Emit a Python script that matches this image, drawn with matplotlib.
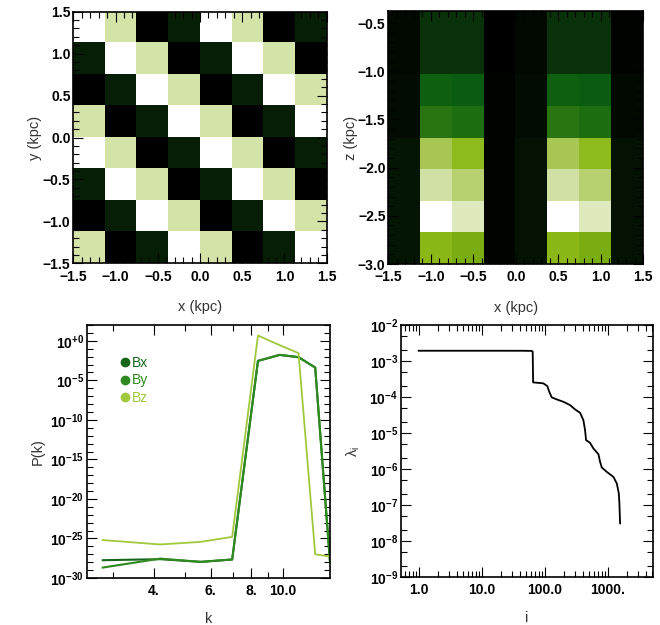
import numpy as np
import matplotlib
matplotlib.use("Agg")
import matplotlib.pyplot as plt
from matplotlib.colors import LinearSegmentedColormap
from matplotlib.lines import Line2D
from matplotlib.ticker import FixedLocator, FixedFormatter, MultipleLocator, LogLocator, NullFormatter

plt.rcParams['font.family'] = ['Liberation Sans', 'DejaVu Sans']
plt.rcParams['mathtext.fontset'] = 'custom'
plt.rcParams['mathtext.rm'] = 'Liberation Sans'
plt.rcParams['mathtext.it'] = 'Liberation Sans:italic'
plt.rcParams['mathtext.bf'] = 'Liberation Sans:bold'
plt.rcParams['axes.linewidth'] = 1.2

# ---- data ----
# xy slice (top row first), field value 0..1
Bxy = [
    [1.00, 0.80, 0.00, 0.07, 1.00, 0.80, 0.00, 0.07],
    [0.07, 1.00, 0.80, 0.00, 0.07, 1.00, 0.80, 0.00],
    [0.00, 0.07, 1.00, 0.80, 0.00, 0.07, 1.00, 0.80],
    [0.80, 0.00, 0.07, 1.00, 0.80, 0.00, 0.07, 1.00],
    [1.00, 0.80, 0.00, 0.07, 1.00, 0.80, 0.00, 0.07],
    [0.07, 1.00, 0.80, 0.00, 0.07, 1.00, 0.80, 0.00],
    [0.00, 0.07, 1.00, 0.80, 0.00, 0.07, 1.00, 0.80],
    [0.80, 0.00, 0.07, 1.00, 0.80, 0.00, 0.07, 1.00],
]
# xz slice (bottom row first)
Bxz = [
    [0.05, 0.51, 0.47, 0.01, 0.04, 0.51, 0.47, 0.04],
    [0.05, 1.00, 0.85, 0.01, 0.04, 1.00, 0.85, 0.04],
    [0.05, 0.79, 0.70, 0.01, 0.04, 0.79, 0.70, 0.04],
    [0.05, 0.65, 0.53, 0.01, 0.04, 0.65, 0.53, 0.04],
    [0.03, 0.31, 0.28, 0.01, 0.03, 0.31, 0.28, 0.02],
    [0.03, 0.22, 0.20, 0.01, 0.03, 0.22, 0.20, 0.02],
    [0.02, 0.11, 0.11, 0.00, 0.02, 0.11, 0.11, 0.01],
    [0.02, 0.11, 0.11, 0.00, 0.02, 0.11, 0.11, 0.01],
]

# power spectrum
k = [2.79, 4.19, 5.59, 6.98, 8.38, 9.77, 11.17, 12.57, 13.96]
logPx = [-27.75, -27.62, -27.96, -27.66, -2.54, -1.78, -2.07, -3.38, -27.96]
logPy = [-28.68, -27.55, -27.96, -27.66, -2.54, -1.78, -2.07, -3.38, -27.96]
logPz = [-25.2, -25.76, -25.43, -24.8, 0.67, -0.55, -1.56, -27.0, -27.3]

# eigenvalue spectrum
idx = [1, 20, 45, 62, 64, 65, 94, 109, 117, 128, 154, 196, 250, 300, 360, 406,
       432, 448, 518, 585, 702, 747, 794, 954, 1214, 1374, 1479, 1511, 1549]
loglam = [-2.715, -2.715, -2.716, -2.72, -2.742, -3.594, -3.62, -3.696, -3.854,
          -4.01, -4.067, -4.133, -4.225, -4.345, -4.438, -4.642, -4.92, -5.198,
          -5.273, -5.43, -5.587, -5.80, -5.957, -6.08, -6.22, -6.40, -6.68,
          -6.96, -7.51]

cmap = LinearSegmentedColormap.from_list('grn', [
    (0.0, '#000000'), (0.1, '#0a2e0a'), (0.2, '#0a5c10'), (0.3, '#237212'),
    (0.5, '#8ab812'), (0.65, '#a8c653'), (0.8, '#d4e3a8'), (1.0, '#ffffff')])

W, H = 660, 625
fig = plt.figure(figsize=(W / 100, H / 100), dpi=100)

def box(l, t, r, b):
    return [l / W, 1 - b / H, (r - l) / W, (b - t) / H]

lab_col = '#333333'

def style(ax, xpad=4.5, ypad=2):
    ax.tick_params(which='both', direction='in', top=True, right=True, color='black')
    ax.tick_params(which='major', length=7, width=0.8)
    ax.tick_params(which='minor', length=4.5, width=0.8)
    ax.tick_params(axis='x', pad=xpad)
    ax.tick_params(axis='y', pad=ypad)
    for t in ax.get_xticklabels() + ax.get_yticklabels():
        t.set_fontsize(10)
        t.set_fontweight('bold')

fmt = plt.FuncFormatter(lambda v, p: ('%.1f' % v).replace('-', '\u2212'))

# top-left
ax1 = fig.add_axes(box(73.3, 11.7, 326.7, 263.3))
ax1.imshow(np.array(Bxy), cmap=cmap, vmin=0, vmax=1, origin='upper',
           extent=[-1.5, 1.5, -1.5, 1.5], aspect='auto', interpolation='nearest')
ax1.xaxis.set_major_locator(MultipleLocator(0.5))
ax1.yaxis.set_major_locator(MultipleLocator(0.5))
ax1.xaxis.set_minor_locator(MultipleLocator(0.1))
ax1.yaxis.set_minor_locator(MultipleLocator(0.1))
ax1.xaxis.set_major_formatter(fmt)
ax1.yaxis.set_major_formatter(fmt)
ax1.set_xlabel('x (kpc)', fontsize=10.5, color=lab_col, labelpad=12)
ax1.set_ylabel('y (kpc)', fontsize=10.5, color=lab_col, labelpad=1)
style(ax1)

# top-right
ax2 = fig.add_axes(box(388.3, 11, 643.3, 264))
ax2.imshow(np.array(Bxz), cmap=cmap, vmin=0, vmax=1, origin='lower',
           extent=[-1.5, 1.5, -3.0, -0.375], aspect='auto', interpolation='nearest')
ax2.xaxis.set_major_locator(MultipleLocator(0.5))
ax2.yaxis.set_major_locator(MultipleLocator(0.5))
ax2.xaxis.set_minor_locator(MultipleLocator(0.1))
ax2.yaxis.set_minor_locator(MultipleLocator(0.1))
ax2.xaxis.set_major_formatter(fmt)
ax2.yaxis.set_major_formatter(fmt)
ax2.set_ylim(-3.0, -0.375)
ax2.set_xlabel('x (kpc)', fontsize=10.5, color=lab_col, labelpad=12)
ax2.set_ylabel('z (kpc)', fontsize=10.5, color=lab_col, labelpad=0)
style(ax2)

# bottom-left
ax3 = fig.add_axes(box(86.7, 325, 330, 578))
cx, cy, cz = '#16661a', '#2e8a1e', '#a0c83c'
ax3.plot(k, 10.0 ** np.array(logPx), color=cx, lw=1.5)
ax3.plot(k, 10.0 ** np.array(logPy), color=cy, lw=1.5)
ax3.plot(k, 10.0 ** np.array(logPz), color=cz, lw=1.3)
ax3.set_xscale('log')
ax3.set_yscale('log')
ax3.set_xlim(2.49, 13.96)
ax3.set_ylim(1e-30, 1e2)
ax3.xaxis.set_major_locator(FixedLocator([4, 6, 8, 10]))
ax3.xaxis.set_major_formatter(FixedFormatter(['4.', '6.', '8.', '10.0']))
ax3.xaxis.set_minor_locator(FixedLocator([3, 5, 7, 9]))
ax3.xaxis.set_minor_formatter(NullFormatter())
pexp = [-30, -25, -20, -15, -10, -5, 0]
ax3.yaxis.set_major_locator(FixedLocator([10.0 ** p for p in pexp]))
ax3.yaxis.set_major_formatter(FixedFormatter(
    [r'$\mathbf{10^{%s}}$' % ('+0' if p == 0 else '%d' % p) for p in pexp]))
ax3.yaxis.set_minor_locator(FixedLocator([10.0 ** p for p in range(-30, 3)]))
ax3.yaxis.set_minor_formatter(NullFormatter())
ax3.set_xlabel('k', fontsize=10.5, color=lab_col, labelpad=10)
ax3.set_ylabel('P(k)', fontsize=10.5, color=lab_col, labelpad=4)
handles = [Line2D([], [], marker='o', ls='none', color=c, markersize=6) for c in (cx, cy, cz)]
ax3.legend(handles, ['Bx', 'By', 'Bz'], loc='upper left', bbox_to_anchor=(0.105, 0.905),
           frameon=False, fontsize=10, handlelength=0.8, handletextpad=0.1,
           labelspacing=0.25, borderpad=0, labelcolor=[cx, cy, cz])
style(ax3)

# bottom-right
ax4 = fig.add_axes(box(400.7, 325, 653.3, 577))
ax4.plot(idx, 10.0 ** np.array(loglam), color='black', lw=1.3)
ax4.set_xscale('log')
ax4.set_yscale('log')
ax4.set_xlim(0.52, 5200)
ax4.set_ylim(1e-9, 1e-2)
ax4.xaxis.set_major_locator(FixedLocator([1, 10, 100, 1000]))
ax4.xaxis.set_major_formatter(FixedFormatter(['1.0', '10.0', '100.0', '1000.']))
ax4.xaxis.set_minor_locator(LogLocator(base=10, subs=np.arange(2, 10)))
ax4.xaxis.set_minor_formatter(NullFormatter())
lexp = list(range(-9, -1))
ax4.yaxis.set_major_locator(FixedLocator([10.0 ** p for p in lexp]))
ax4.yaxis.set_major_formatter(FixedFormatter([r'$\mathbf{10^{%d}}$' % p for p in lexp]))
ax4.yaxis.set_minor_locator(LogLocator(base=10, subs=[2, 5]))
ax4.yaxis.set_minor_formatter(NullFormatter())
ax4.set_xlabel('i', fontsize=10.5, color=lab_col, labelpad=10)
ax4.set_ylabel(r'$\mathrm{\lambda_i}$', fontsize=10.5, color=lab_col, labelpad=5)
style(ax4)

fig.savefig('out.png', dpi=100)
